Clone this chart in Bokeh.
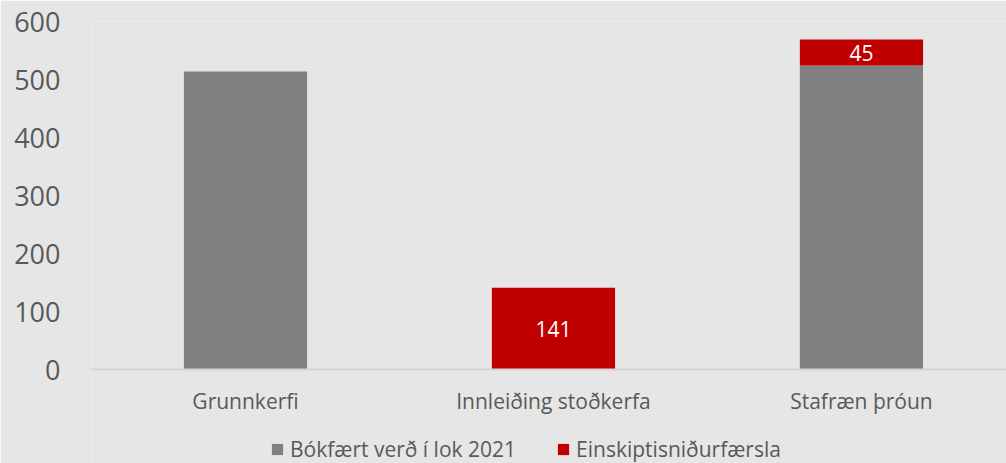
from bokeh.plotting import figure
from bokeh.models import ColumnDataSource, Range1d, Legend, LegendItem, FixedTicker, Span
from bokeh.core.properties import value
from bokeh.embed import file_html
from bokeh.resources import INLINE

categories = ["Grunnkerfi", "Innleiðing stoðkerfa", "Stafræn þróun"]
book_value = [514, 0, 524]
one_off = [0, 141, 45]
series_names = ["Bókfært verð í lok 2021", "Einskiptisniðurfærsla"]
y_ticks = [0, 100, 200, 300, 400, 500, 600]

GRAY = "#808080"
RED = "#c00000"
BG = "#e6e6e6"
TXT = "#595959"
FONT = "Open Sans"

# layout (pixels)
W, H = 1006, 463
TOP, LEFT = 21, 91
PLOT_H = 348            # pixels from value 0 to value 600
Y_MAX = 600
unit = Y_MAX / PLOT_H   # data units per pixel
y_min = -(H - TOP - PLOT_H) * unit
cat_label_y = -31 * unit

x = list(range(len(categories)))
src = ColumnDataSource(dict(
    x=x,
    book=book_value,
    oneoff_top=[b + o for b, o in zip(book_value, one_off)],
    label_y=[b + o / 2 for b, o in zip(book_value, one_off)],
    label_txt=[str(o) if o > 0 else "" for o in one_off],
    cat=categories,
    cat_y=[cat_label_y] * len(categories),
))

p = figure(width=W, height=H, output_backend="svg",
           toolbar_location=None, x_range=Range1d(-0.5, 2.471),
           y_range=Range1d(y_min, Y_MAX),
           background_fill_color=BG, border_fill_color=BG,
           min_border_left=LEFT, min_border_top=TOP, min_border_right=0,
           min_border_bottom=0, outline_line_color=None)

r1 = p.vbar(x="x", top="book", bottom=0, width=0.40, fill_color=GRAY,
            line_color=None, source=src)
r2 = p.vbar(x="x", top="oneoff_top", bottom="book", width=0.40, fill_color=RED,
            line_color=None, source=src)
p.text(x="x", y="label_y", text="label_txt", source=src, text_color="white",
       text_font=value(FONT), text_font_size="21px", text_align="center",
       text_baseline="middle")
p.text(x="x", y="cat_y", text="cat", source=src, text_color=TXT,
       text_font=value(FONT), text_font_size="21px", text_align="center",
       text_baseline="middle")
p.add_layout(Span(location=0, dimension="width", line_color="#d4d4d4",
                  line_width=2))

p.xgrid.grid_line_color = None
p.ygrid.grid_line_color = None
p.xaxis.visible = False

p.yaxis.ticker = FixedTicker(ticks=y_ticks)
p.yaxis.axis_line_color = None
p.yaxis.major_tick_line_color = None
p.yaxis.minor_tick_line_color = None
p.yaxis.major_label_text_font = FONT
p.yaxis.major_label_text_font_size = "27px"
p.yaxis.major_label_text_color = TXT
p.yaxis.major_label_standoff = 25

legend = Legend(items=[LegendItem(label=series_names[0], renderers=[r1]),
                       LegendItem(label=series_names[1], renderers=[r2])],
                orientation="horizontal", location=(179, 0),
                background_fill_alpha=0, border_line_color=None,
                label_text_font=FONT, label_text_font_size="21px",
                label_text_color=TXT, glyph_width=14, glyph_height=14,
                label_standoff=6, spacing=40, padding=0, margin=0,
                label_height=20)
p.add_layout(legend)

open("out.html", "w").write(file_html(p, INLINE))
